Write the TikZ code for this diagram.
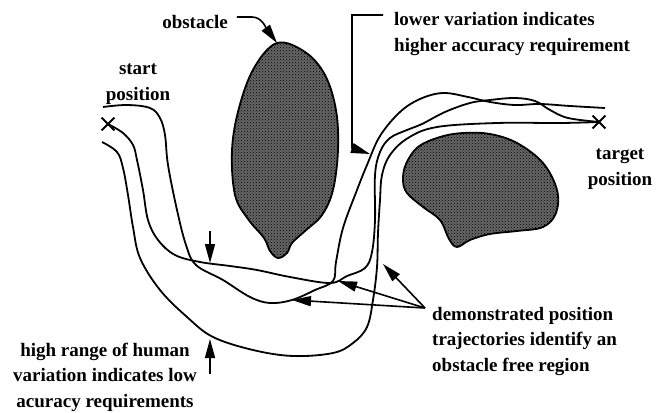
\documentclass[tikz,border=0pt]{standalone}
\usepackage{fontspec}
\setmainfont{Liberation Serif}
\usetikzlibrary{arrows.meta, positioning, patterns, shapes.misc}

\begin{document}
\begin{tikzpicture}[
  x=1pt, y=-1pt,
  font=\bfseries\fontsize{19}{25.5}\selectfont,
  label/.style={inner sep=0pt, align=center},
  notes/.style={inner sep=0pt, align=left},
  obst/.style={draw, line width=1.8pt, preaction={fill=black!60},
               pattern=crosshatch dots, pattern color=black},
  traj/.style={line width=1.8pt},
  endpt/.style={cross out, draw, line width=1.8pt, minimum size=11pt, inner sep=0pt},
  arr/.style={-{Triangle[length=19pt, width=10pt]}, line width=1.6pt}
]
\useasboundingbox (0,0) rectangle (658,412);

\draw[obst] plot[smooth cycle, tension=0.6] coordinates {
  (277,43) (305,52) (325,75) (336,110) (338,150) (333,190) (322,215)
  (305,231) (292,243) (287,253) (278,258) (270,251) (264,238) (248,219)
  (235,195) (232,150) (239,108) (254,68)};
\draw[obst] plot[smooth cycle, tension=0.6] coordinates {
  (463,133) (490,134) (517,143) (543,163) (557,190) (556,213) (543,227)
  (517,231) (490,234) (470,240) (457,247) (449,239) (440,220) (423,207)
  (407,193) (403,180) (406,164) (418,147) (440,137)};

\node[endpt] (start) at (108,124) {};
\node[endpt] (target) at (599,122) {};

\draw[traj] plot[smooth, tension=0.6] coordinates {
  (103,107) (127,105) (150,108) (160,118) (165,135) (168,165) (177,210)
  (186,245) (196,265) (223,280) (250,297) (270,303) (292,300) (315,290)
  (333,281) (336,262) (343,228) (357,190) (367,165) (380,136) (400,112)
  (420,99) (443,93) (468,97) (490,102) (515,105) (540,104) (570,106) (605,108)};
\draw[traj] plot[smooth, tension=0.6] coordinates {
  (start.center) (123,133) (133,145) (137,160) (143,190) (148,220) (158,240)
  (175,255) (200,262) (230,266) (257,270) (290,277) (330,283) (347,276)
  (365,268) (372,252) (375,220) (375,175) (380,152) (390,138) (407,130)
  (422,124) (445,112) (470,103) (490,100) (515,98) (535,101) (550,110)
  (568,118) (target.center)};
\draw[traj] plot[smooth, tension=0.6] coordinates {
  (102,142) (117,152) (123,168) (128,195) (133,227) (140,258) (160,290)
  (187,317) (213,337) (253,350) (293,356) (333,353) (353,343) (367,327)
  (373,300) (377,267) (378,233) (380,200) (382,175) (390,155) (408,138)
  (437,127) (497,123) (560,123) (target.center)};

\node[label] (startlbl) at (138,84) {start\\position};
\node[label] (targetlbl) at (620,169) {target\\position};
\node[label] (obstlbl) at (195,22) {obstacle};
\node[notes, anchor=west] (lowvar) at (394,34) {lower variation indicates\\higher accuracy requirement};
\node[notes, anchor=west] (demo) at (432,341) {demonstrated position\\trajectories identify an\\obstacle free region};
\node[label] (highvar) at (105,377) {high range of human\\variation indicates low\\acuracy requirements};

\coordinate (obsttop) at (277,43);
\coordinate (lowtip) at (370,154);
\coordinate (fan) at (425,308);
\coordinate (d1) at (292,300);
\coordinate (d2) at (338,281);
\coordinate (d3) at (383,264);
\coordinate (narrowtail) at (210,231);
\coordinate (narrow) at (210,263);
\coordinate (widetail) at (210,374);
\coordinate (wide) at (210,339);

\draw[arr] ([shift={(9,-5)}]obstlbl.east) -- ++(15,0)
  .. controls (262,17) and (266,28) .. (obsttop);
\draw[arr] ([shift={(-11,-19)}]lowvar.west) -- ++(-31,0) -- ++(0,133) -- (lowtip);
\draw[arr] (fan) -- (d1);
\draw[arr] (fan) -- (d2);
\draw[arr] (fan) -- (d3);
\draw[arr] (narrowtail) -- (narrow);
\draw[arr] (widetail) -- (wide);
\end{tikzpicture}
\end{document}
